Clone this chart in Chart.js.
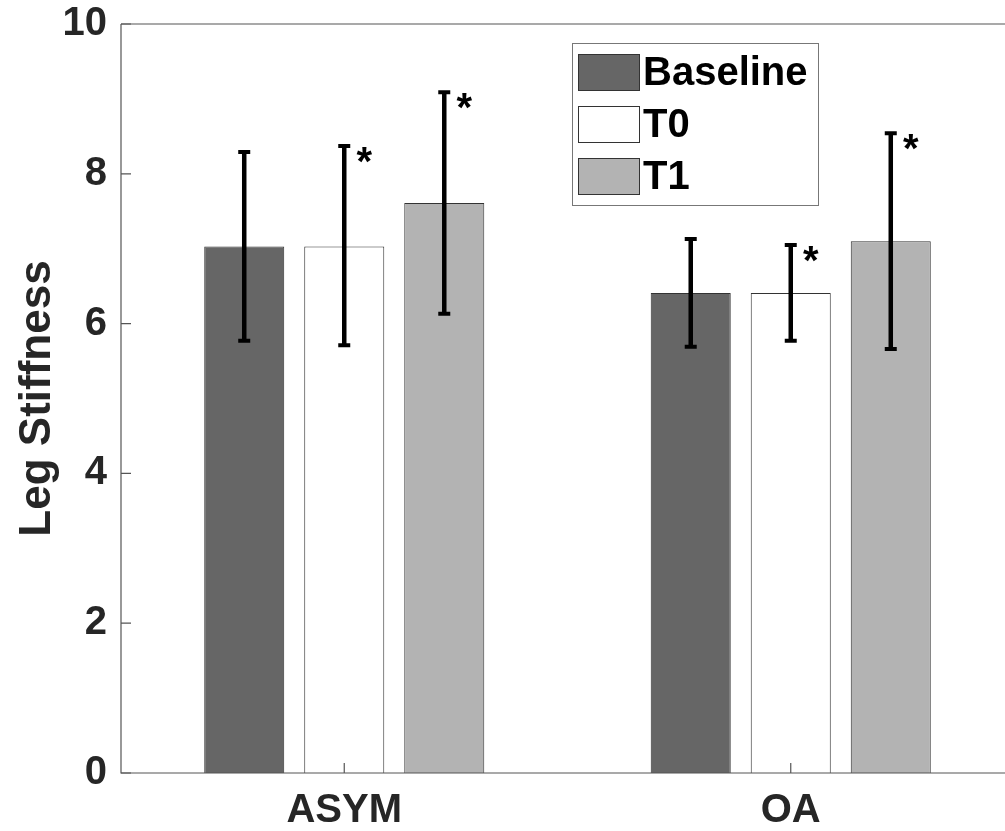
<!DOCTYPE html>
<html>
<head>
<meta charset="utf-8">
<script src="https://cdn.jsdelivr.net/npm/chart.js@4/dist/chart.umd.min.js"></script>
<style>
  html, body { margin: 0; padding: 0; background: #fff; overflow: hidden; }
  #wrap { width: 1014px; height: 831px; }
</style>
</head>
<body>
<div id="wrap"><canvas id="chart" width="1014" height="831"></canvas></div>
<script>
// data
const categories = ['ASYM', 'OA'];
const seriesNames = ['Baseline', 'T0', 'T1'];
const seriesColors = ['#666666', '#ffffff', '#b3b3b3'];
const baseline = [7.03, 6.41];
const t0 = [7.03, 6.41];
const t1 = [7.61, 7.10];
const baselineErr = [[5.77, 8.29], [5.69, 7.13]];
const t0Err = [[5.71, 8.37], [5.77, 7.05]];
const t1Err = [[6.13, 9.09], [5.66, 8.54]];
const significant = [[false, false], [true, true], [true, true]];
const yTicks = [0, 2, 4, 6, 8, 10];

const textColor = '#262626';
const fontFamily = '"Liberation Sans", Arial, sans-serif';

const values = [baseline, t0, t1];
const errors = [baselineErr, t0Err, t1Err];

// axes box, inward ticks, error bars, asterisks and boxed legend
const decorations = {
    id: 'decorations',
    afterDatasetsDraw(chart) {
        const ctx = chart.ctx;
        const area = chart.chartArea;
        const x = chart.scales.x;
        const y = chart.scales.y;
        ctx.save();

        // error bars
        chart.data.datasets.forEach((ds, i) => {
            const meta = chart.getDatasetMeta(i);
            meta.data.forEach((bar, j) => {
                const lo = y.getPixelForValue(errors[i][j][0]);
                const hi = y.getPixelForValue(errors[i][j][1]);
                ctx.strokeStyle = '#000';
                ctx.lineWidth = 4.5;
                ctx.beginPath();
                ctx.moveTo(bar.x, lo);
                ctx.lineTo(bar.x, hi);
                ctx.stroke();
                ctx.lineWidth = 4;
                ctx.beginPath();
                ctx.moveTo(bar.x - 6, lo);
                ctx.lineTo(bar.x + 6, lo);
                ctx.moveTo(bar.x - 6, hi);
                ctx.lineTo(bar.x + 6, hi);
                ctx.stroke();
                if (significant[i][j]) {
                    ctx.fillStyle = '#000';
                    ctx.font = 'bold 40px ' + fontFamily;
                    ctx.textAlign = 'center';
                    ctx.textBaseline = 'top';
                    ctx.fillText('*', bar.x + 20, hi - 2);
                }
            });
        });

        // frame
        ctx.strokeStyle = '#555';
        ctx.lineWidth = 1.2;
        ctx.beginPath();
        ctx.moveTo(area.left, area.top);
        ctx.lineTo(area.right, area.top);
        ctx.moveTo(area.left, area.top);
        ctx.lineTo(area.left, area.bottom);
        ctx.lineTo(area.right, area.bottom);
        ctx.stroke();

        // inward ticks
        ctx.beginPath();
        yTicks.forEach(v => {
            const py = y.getPixelForValue(v);
            ctx.moveTo(area.left, py);
            ctx.lineTo(area.left + 10, py);
        });
        categories.forEach((c, k) => {
            const px = x.getPixelForValue(k);
            ctx.moveTo(px, area.bottom);
            ctx.lineTo(px, area.bottom - 10);
        });
        ctx.stroke();

        // legend box
        const lx = 572, ly = 43, lw = 246, lh = 162;
        ctx.fillStyle = '#fff';
        ctx.fillRect(lx, ly, lw, lh);
        ctx.strokeStyle = '#777';
        ctx.lineWidth = 1;
        ctx.strokeRect(lx + 0.5, ly + 0.5, lw, lh);
        chart.data.datasets.forEach((ds, i) => {
            const cy = 72 + i * 52;
            ctx.fillStyle = ds.backgroundColor;
            ctx.fillRect(578, cy - 18, 61, 36);
            ctx.strokeStyle = '#333';
            ctx.strokeRect(578.5, cy - 17.5, 61, 36);
            ctx.fillStyle = '#000';
            ctx.font = 'bold 40px ' + fontFamily;
            ctx.textAlign = 'left';
            ctx.textBaseline = 'middle';
            ctx.fillText(ds.label, 643, cy + 2);
        });
        ctx.restore();
    }
};

new Chart(document.getElementById('chart'), {
    type: 'bar',
    data: {
        labels: categories,
        datasets: seriesNames.map((name, i) => ({
            label: name,
            data: values[i],
            backgroundColor: seriesColors[i],
            borderColor: '#333',
            borderWidth: 1,
            categoryPercentage: 0.672,
            barPercentage: 0.8
        }))
    },
    options: {
        responsive: false,
        animation: false,
        layout: { padding: { top: 24, right: 0, left: 0, bottom: 0 } },
        plugins: {
            legend: { display: false },
            tooltip: { enabled: false }
        },
        scales: {
            x: {
                grid: { display: false, drawTicks: false },
                border: { display: false },
                ticks: {
                    color: textColor,
                    padding: 14,
                    font: { family: fontFamily, size: 40, weight: 'bold' }
                },
                afterFit(scale) {
                    scale.height = 58;
                    scale.paddingLeft = 0;
                    scale.paddingRight = 0;
                }
            },
            y: {
                min: 0,
                max: 10,
                afterBuildTicks(scale) { scale.ticks = yTicks.map(v => ({ value: v })); },
                grid: { display: false, drawTicks: false },
                border: { display: false },
                ticks: {
                    color: textColor,
                    padding: 14,
                    font: { family: fontFamily, size: 40, weight: 'bold' }
                },
                title: {
                    display: true,
                    text: 'Leg Stiffness',
                    color: textColor,
                    padding: { top: 11, bottom: 0 },
                    font: { family: fontFamily, size: 44, weight: 'bold' }
                },
                afterFit(scale) {
                    scale.width = 121;
                    scale.paddingTop = 0;
                    scale.paddingBottom = 0;
                }
            }
        }
    },
    plugins: [decorations]
});
</script>
</body>
</html>
